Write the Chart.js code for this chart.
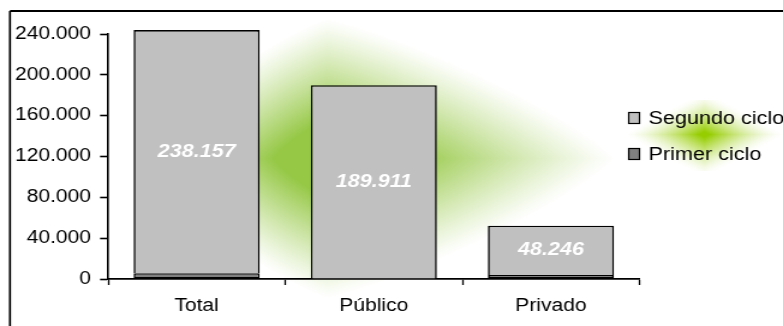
<!DOCTYPE html>
<html>
<head>
<meta charset="utf-8">
<script src="https://cdn.jsdelivr.net/npm/chart.js@4/dist/chart.umd.min.js"></script>
<style>
  html, body { margin: 0; padding: 0; background: #fff; overflow: hidden; }
  #c { display: block; }
</style>
</head>
<body>
<canvas id="c" width="652" height="326" style="width:783px;height:326px"></canvas>
<script>
// Students by cycle and type of centre
const categories = ['Total', 'Público', 'Privado'];
const primerCiclo = [5700, 0, 3900];
const segundoCiclo = [238157, 189911, 48246];
const yTicks = [0, 40000, 80000, 120000, 160000, 200000, 240000];
const seriesNames = ['Primer ciclo', 'Segundo ciclo'];

const W = 652, H = 326;           // canvas drawing size (displayed wider)
const FONT = '"Liberation Sans", Arial, sans-serif';

function fmt(v) {
  return String(v).replace(/\B(?=(\d{3})+(?!\d))/g, '.');
}

// soft green background flares
const background = {
  id: 'background',
  beforeDraw(chart) {
    const ctx = chart.ctx;
    const img = ctx.createImageData(W, H);
    const d = img.data;
    const legendBox = { x0: 517, x1: W, y0: 100, y1: 170 };
    function flare(x, y, cx, cy, aL, aR, b, p, gam, k) {
      const a = x < cx ? aL : aR;
      const t = Math.pow(Math.pow(Math.abs(x - cx) / a, p) + Math.pow(Math.abs(y - cy) / b, p), 1 / p);
      return t >= 1 ? 0 : Math.min(1, k * Math.pow(1 - t, gam));
    }
    for (let y = 0; y < H; y++) {
      for (let x = 0; x < W; x++) {
        let g, gr;
        if (x >= legendBox.x0 && y >= legendBox.y0 && y <= legendBox.y1) {
          g = flare(x, y, 586, 134, 66, 66, 42, 1.05, 1.5, 1.1);
          gr = [150, 205, 0];
        } else {
          g = flare(x, y, 272, 158, 160, 240, 140, 1.2, 1.15, 1.45);
          gr = [150, 200, 70];
        }
        const i = (y * W + x) * 4;
        d[i]     = Math.round(255 + (gr[0] - 255) * g);
        d[i + 1] = Math.round(255 + (gr[1] - 255) * g);
        d[i + 2] = Math.round(255 + (gr[2] - 255) * g);
        d[i + 3] = 255;
      }
    }
    ctx.putImageData(img, 0, 0);
    // outer frame
    ctx.save();
    ctx.strokeStyle = '#000';
    ctx.lineWidth = 2;
    ctx.beginPath();
    ctx.moveTo(8.3, 11); ctx.lineTo(W, 11);
    ctx.stroke();
    ctx.lineWidth = 1.7;
    ctx.beginPath();
    ctx.moveTo(8.3, 11); ctx.lineTo(8.3, H);
    ctx.stroke();
    ctx.restore();
  }
};

// value of the upper segment, written inside it
const valueLabels = {
  id: 'valueLabels',
  afterDatasetsDraw(chart) {
    const ctx = chart.ctx;
    const meta = chart.getDatasetMeta(1);
    ctx.save();
    ctx.font = 'italic bold 18px ' + FONT;
    ctx.fillStyle = '#fff';
    ctx.textAlign = 'center';
    ctx.textBaseline = 'middle';
    meta.data.forEach((el, i) => {
      const p = el.getProps(['x', 'y', 'base'], true);
      ctx.fillText(fmt(chart.data.datasets[1].data[i]), p.x, (p.y + p.base) / 2);
    });
    ctx.restore();
  }
};

// legend at the right, last series on top
const sideLegend = {
  id: 'sideLegend',
  afterDraw(chart) {
    const ctx = chart.ctx;
    const ds = chart.data.datasets.slice().reverse();
    const rows = [118, 154];
    ctx.save();
    ctx.font = '18px ' + FONT;
    ctx.textBaseline = 'middle';
    ctx.textAlign = 'left';
    ds.forEach((s, i) => {
      const y = rows[i];
      ctx.fillStyle = s.backgroundColor;
      ctx.fillRect(523.5, y - 5.5, 9, 11);
      ctx.strokeStyle = '#000';
      ctx.lineWidth = 1.2;
      ctx.strokeRect(523.5, y - 5.5, 9, 11);
      ctx.fillStyle = '#000';
      ctx.fillText(s.label, 540, y + 1);
    });
    ctx.restore();
  }
};

new Chart(document.getElementById('c'), {
  type: 'bar',
  data: {
    labels: categories,
    datasets: [
      {
        label: seriesNames[0],
        data: primerCiclo,
        backgroundColor: '#808080',
        borderColor: '#000',
        borderWidth: 1.6,
        borderSkipped: false,
        clip: false
      },
      {
        label: seriesNames[1],
        data: segundoCiclo,
        backgroundColor: '#c0c0c0',
        borderColor: '#000',
        borderWidth: 1.6,
        borderSkipped: 'start',
        clip: false
      }
    ]
  },
  options: {
    responsive: false,
    devicePixelRatio: 1,
    animation: false,
    events: [],
    layout: { padding: { left: 0, right: W - 532.5, top: 34, bottom: 0 } },
    datasets: { bar: { categoryPercentage: 1, barPercentage: 0.712 } },
    plugins: { legend: { display: false }, tooltip: { enabled: false } },
    scales: {
      x: {
        stacked: true,
        offset: true,
        grid: {
          offset: true, drawOnChartArea: false, drawTicks: true,
          tickLength: 6, tickColor: '#000', tickWidth: 1.3, color: '#000'
        },
        border: { display: true, color: '#000', width: 1.8 },
        ticks: { color: '#000', font: { family: FONT, size: 17.5 }, padding: 11, maxRotation: 0 },
        afterFit(scale) { scale.height = H - 279; }
      },
      y: {
        stacked: true,
        min: 0,
        max: 240000,
        afterBuildTicks(scale) { scale.ticks = yTicks.map(v => ({ value: v })); },
        grid: {
          drawOnChartArea: false, drawTicks: true,
          tickLength: 6.7, tickColor: '#000', tickWidth: 1.6, color: '#000'
        },
        border: { display: true, color: '#000', width: 1.6 },
        ticks: {
          color: '#000', font: { family: FONT, size: 17.5 }, padding: 7.5,
          callback: v => fmt(v)
        },
        afterFit(scale) { scale.width = 90; }
      }
    }
  },
  plugins: [background, valueLabels, sideLegend]
});
</script>
</body>
</html>
